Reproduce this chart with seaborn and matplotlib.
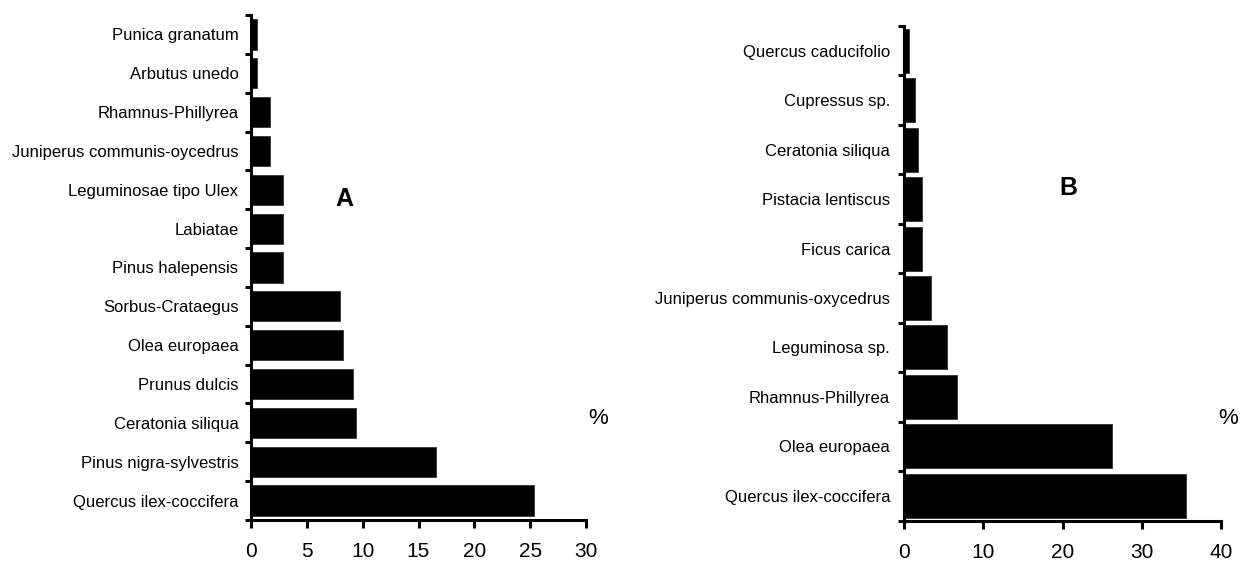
import matplotlib
matplotlib.use("Agg")
import matplotlib.pyplot as plt
import seaborn as sns
import numpy as np
import pandas as pd

# Panel A data (top to bottom)
cats_a = ["Punica granatum", "Arbutus unedo", "Rhamnus-Phillyrea",
          "Juniperus communis-oycedrus", "Leguminosae tipo Ulex", "Labiatae",
          "Pinus halepensis", "Sorbus-Crataegus", "Olea europaea",
          "Prunus dulcis", "Ceratonia siliqua", "Pinus nigra-sylvestris",
          "Quercus ilex-coccifera"]
vals_a = [0.5, 0.5, 1.7, 1.7, 2.9, 2.9, 2.9, 8.0, 8.2, 9.1, 9.4, 16.6, 25.3]
ticks_a = [0, 5, 10, 15, 20, 25, 30]

# Panel B data (top to bottom)
cats_b = ["Quercus caducifolio", "Cupressus sp.", "Ceratonia siliqua",
          "Pistacia lentiscus", "Ficus carica", "Juniperus communis-oxycedrus",
          "Leguminosa sp.", "Rhamnus-Phillyrea", "Olea europaea",
          "Quercus ilex-coccifera"]
vals_b = [0.6, 1.4, 1.8, 2.3, 2.3, 3.4, 5.4, 6.7, 26.3, 35.6]
ticks_b = [0, 10, 20, 30, 40]

sns.set_theme(style="white")
plt.rcParams['font.family'] = ['Liberation Sans', 'DejaVu Sans']
plt.rcParams['text.color'] = 'black'
plt.rcParams['xtick.color'] = 'black'
plt.rcParams['ytick.color'] = 'black'
plt.rcParams['xtick.labelcolor'] = 'black'
plt.rcParams['ytick.labelcolor'] = 'black'

fig = plt.figure(figsize=(12.41, 5.63), dpi=100)
ax_a = fig.add_axes([251/1241, 1-520/563, (586-251)/1241, (520-15)/563])
ax_b = fig.add_axes([904/1241, 1-520.5/563, (1221-904)/1241, (520.5-26)/563])


def draw(ax, cats, vals, ticks, width, ypad, letter, letter_pos, pct_pos):
    df = pd.DataFrame({"taxon": cats, "pct": vals})
    sns.barplot(data=df, x="pct", y="taxon", orient="h", color="black",
                width=width, saturation=1, edgecolor="#333333", linewidth=0.6,
                ax=ax)
    n = len(cats)
    ax.set_xlim(ticks[0], ticks[-1])
    ax.set_ylim(n - 0.5, -0.5)
    ax.set_xticks(ticks)
    ax.set_xticklabels([str(t) for t in ticks], fontsize=15)
    ax.set_yticks(range(n))
    ax.set_yticklabels(cats, fontsize=12)
    ax.set_yticks(np.arange(-0.5, n, 1.0), minor=True)
    ax.tick_params(axis="y", which="major", length=0, pad=ypad)
    ax.tick_params(axis="y", which="minor", length=4.5, width=2.2,
                   direction="out", left=True, color="black")
    ax.tick_params(axis="x", which="major", length=6, width=2.2,
                   direction="out", bottom=True, color="black", pad=10)
    ax.set_xlabel("")
    ax.set_ylabel("")
    for s in ["top", "right"]:
        ax.spines[s].set_visible(False)
    for s in ["left", "bottom"]:
        ax.spines[s].set_visible(True)
        ax.spines[s].set_color("black")
        ax.spines[s].set_linewidth(2.2)
    ax.text(pct_pos[0], pct_pos[1], "%", transform=ax.transAxes, fontsize=16,
            ha="center", va="center", color="black")
    ax.text(letter_pos[0], letter_pos[1], letter, transform=ax.transAxes,
            fontsize=18, fontweight="bold", ha="center", va="center",
            color="black")


draw(ax_a, cats_a, vals_a, ticks_a, 0.78, 9, "A",
     ((344-251)/335, (520-199)/505),
     ((598.5-251)/335, (520-418)/505))
draw(ax_b, cats_b, vals_b, ticks_b, 0.89, 10, "B",
     ((1068-904)/317, (520.5-188)/494.5),
     ((1228-904)/317, (520.5-418)/494.5))

fig.savefig("out.png", dpi=100)
